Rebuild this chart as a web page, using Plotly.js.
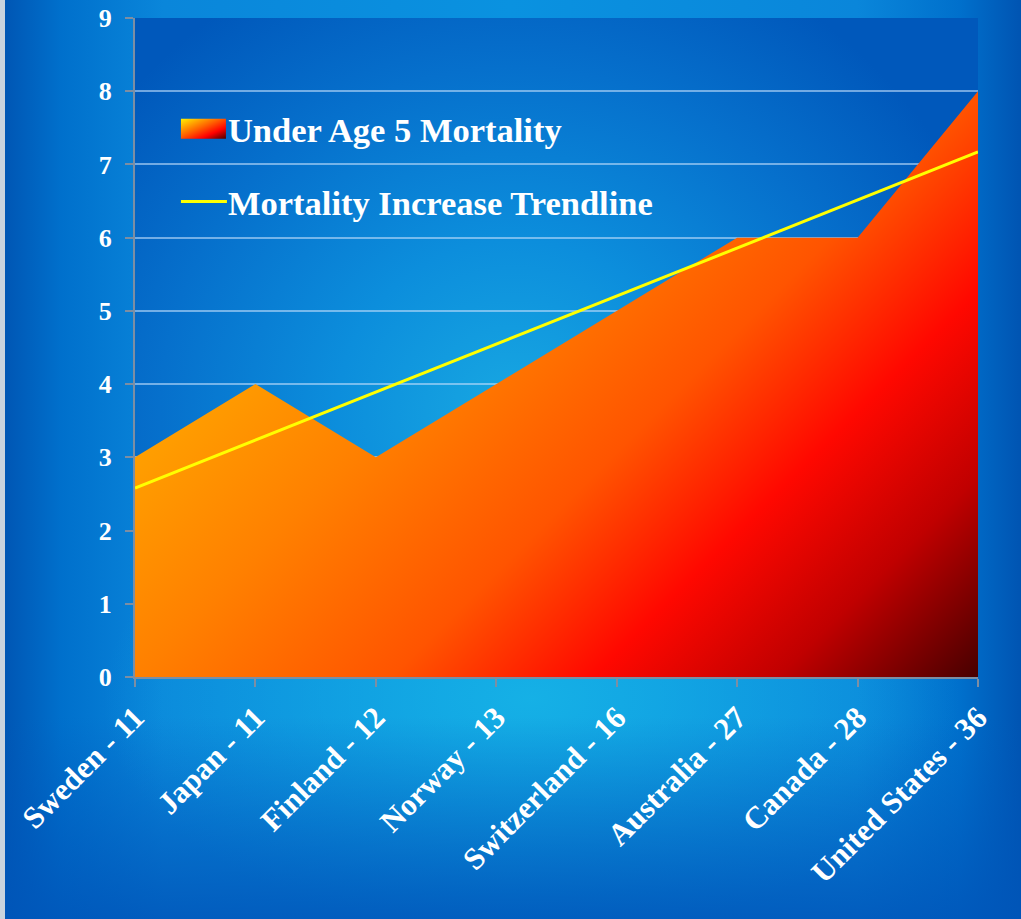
<!DOCTYPE html>
<html>
<head>
<meta charset="utf-8">
<script src="https://cdn.plot.ly/plotly-3.0.1.min.js"></script>
<style>
html, body { margin: 0; padding: 0; background: #0060c0; }
#wrap {
  position: relative; width: 1021px; height: 919px; overflow: hidden;
  background:
    linear-gradient(to bottom, rgba(0,80,180,0) 78%, rgba(0,85,185,0.85) 100%),
    radial-gradient(ellipse 42% 26% at 52% 76%, rgba(22,178,230,0.95) 0%, rgba(22,178,230,0) 100%),
    linear-gradient(to right, #0054b2 0%, #0070cc 6%, #0a86da 16%, #0a92e0 50%, #0a86da 84%, #0070cc 94%, #0054b2 100%);
  box-shadow: inset 5px 0 0 #c9d3de;
}
#plotbg {
  position: absolute; left: 135px; top: 18px; width: 843px; height: 659px;
  background:
    radial-gradient(ellipse 60% 75% at 45% 60%, #18a8e2 0%, #0c8edc 35%, #0670cc 70%, #0058bb 100%);
}
#chart { position: absolute; left: 0; top: 0; width: 1021px; height: 919px; }
</style>
</head>
<body>
<div id="wrap"><div id="plotbg"></div><div id="chart"></div></div>
<script>
// ---- data ----
const categories = ['Sweden - 11', 'Japan - 11', 'Finland - 12', 'Norway - 13',
                    'Switzerland - 16', 'Australia - 27', 'Canada - 28', 'United States - 36'];
const mortality = [3, 4, 3, 4, 5, 6, 6, 8];
const trendCategories = ['Sweden - 11', 'United States - 36'];
const trendValues = [2.58, 7.17];
const seriesNames = ['Under Age 5 Mortality', 'Mortality Increase Trendline'];
const yTicks = [0, 1, 2, 3, 4, 5, 6, 7, 8, 9];

const FONT = 'Liberation Serif, Times New Roman, serif';

const traces = [
  {
    type: 'scatter', mode: 'lines', x: categories, y: mortality,
    fill: 'tozeroy', fillcolor: '#ff4a00', line: { width: 0, color: '#ff4a00' },
    name: seriesNames[0], legendgroup: 'a', hoverinfo: 'skip'
  },
  {
    type: 'scatter', mode: 'lines', x: trendCategories, y: trendValues,
    line: { color: '#ffff00', width: 3 },
    name: seriesNames[1], legendgroup: 'b', hoverinfo: 'skip'
  }
];

const layout = {
  width: 1021, height: 919,
  margin: { l: 135, r: 43, t: 18, b: 242, pad: 0 },
  paper_bgcolor: 'rgba(0,0,0,0)',
  plot_bgcolor: 'rgba(0,0,0,0)',
  showlegend: true,
  legend: {
    x: 0.045, y: 0.876, xanchor: 'left', yanchor: 'top',
    bgcolor: 'rgba(0,0,0,0)', borderwidth: 0,
    font: { family: FONT, size: 34.5, color: '#ffffff', weight: 'bold' },
    itemwidth: 45, tracegroupgap: 25
  },
  xaxis: {
    type: 'category', categoryorder: 'array', categoryarray: categories,
    range: [0, 7], showgrid: false, zeroline: false,
    showline: true, linecolor: '#7d8ea3', linewidth: 2,
    ticks: 'outside', ticklen: 8, tickwidth: 2, tickcolor: '#7d8ea3',
    tickangle: -45,
    tickfont: { family: FONT, size: 31, color: '#ffffff', weight: 'bold' }
  },
  yaxis: {
    range: [0, 9], tickvals: yTicks, ticktext: yTicks.map(String),
    showgrid: true, gridcolor: 'rgba(190,220,250,0.6)', gridwidth: 2,
    zeroline: false, showline: true, linecolor: '#7d8ea3', linewidth: 2,
    ticks: 'outside', ticklen: 8, tickwidth: 2, tickcolor: '#7d8ea3',
    ticklabelstandoff: 8,
    tickfont: { family: FONT, size: 26, color: '#ffffff', weight: 'bold' }
  }
};

const NS = 'http://www.w3.org/2000/svg';
function makeLinear(defs, id, attrs, stops) {
  const g = document.createElementNS(NS, 'linearGradient');
  g.setAttribute('id', id);
  for (const k in attrs) g.setAttribute(k, attrs[k]);
  stops.forEach(([o, c]) => {
    const s = document.createElementNS(NS, 'stop');
    s.setAttribute('offset', o);
    s.setAttribute('stop-color', c);
    g.appendChild(s);
  });
  defs.appendChild(g);
}

function decorate(gd) {
  const svg = gd.querySelector('svg.main-svg');
  let defs = svg.querySelector('defs');
  if (!defs) { defs = document.createElementNS(NS, 'defs'); svg.insertBefore(defs, svg.firstChild); }

  const fillPath = gd.querySelector('.scatterlayer .trace .js-fill');
  if (fillPath) {
    const bb = fillPath.getBBox();
    const d = (bb.width + bb.height) / 2;
    makeLinear(defs, 'areaGrad', {
      gradientUnits: 'userSpaceOnUse',
      x1: bb.x, y1: bb.y, x2: bb.x + d, y2: bb.y + d
    }, [
      [0, '#ffd000'], [0.25, '#ffa000'], [0.41, '#ff8000'], [0.59, '#ff5400'],
      [0.73, '#ff0800'], [0.86, '#c00000'], [1, '#470000']
    ]);
    fillPath.style.fill = 'url(#areaGrad)';
    fillPath.style.fillOpacity = 1;
  }

  makeLinear(defs, 'swatchGrad', { x1: 0, y1: 0, x2: 1, y2: 1 }, [
    [0, '#fff200'], [0.45, '#ff6000'], [0.72, '#ff0000'], [1, '#4a0000']
  ]);
  const lf = gd.querySelector('.legend .traces .legendfill path');
  if (lf) {
    lf.setAttribute('d', 'M8,-10h45v20h-45z');
    lf.style.fill = 'url(#swatchGrad)';
    lf.style.fillOpacity = 1;
  }
  const ll = gd.querySelectorAll('.legend .traces .legendlines path');
  ll.forEach(p => {
    if (p.style.stroke && p.style.strokeWidth && parseFloat(p.style.strokeWidth) > 0) {
      p.setAttribute('d', 'M8,0h46');
    }
  });
}

Plotly.newPlot('chart', traces, layout, { staticPlot: true, displayModeBar: false })
  .then(decorate);
</script>
</body>
</html>
